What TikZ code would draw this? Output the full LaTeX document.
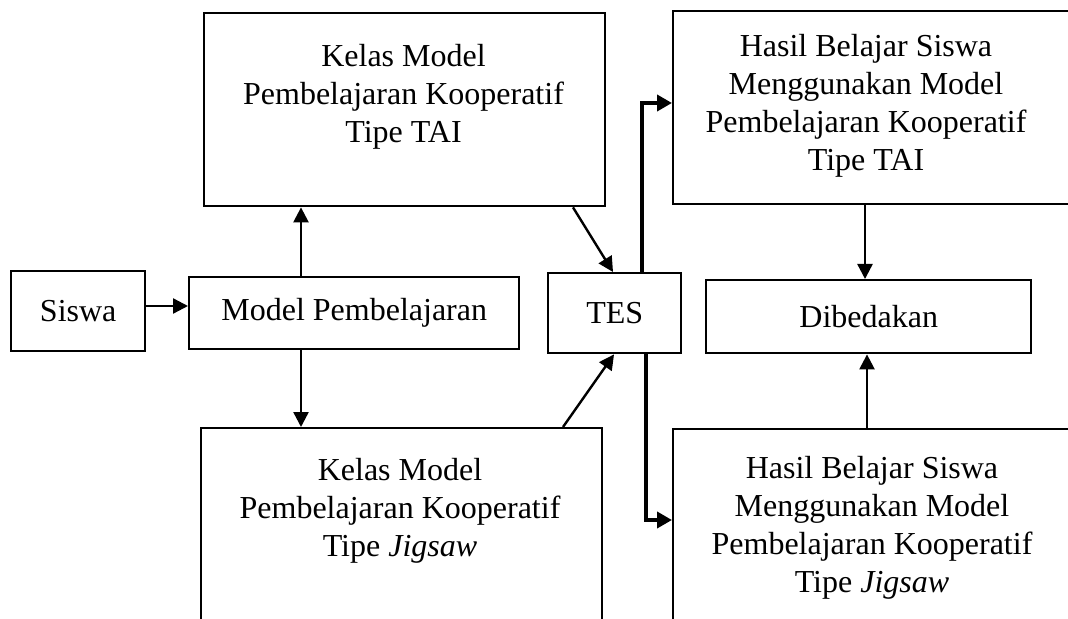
\documentclass[tikz,border=0pt]{standalone}
\usepackage{fontspec}
\setmainfont{Liberation Serif}
\usetikzlibrary{calc,arrows.meta}
\begin{document}
\begin{tikzpicture}[x=0.5pt,y=-0.5pt,
  box/.style={draw,line width=1.2pt,inner sep=0pt,anchor=north west,font=\fontsize{16}{19}\selectfont},
  txt/.style={align=center,font=\fontsize{16}{19}\selectfont,inner sep=0pt},
  arr/.style={line width=1.2pt,-{Triangle[length=7.5pt,width=7.5pt]}},
  thk/.style={line width=2pt,line join=miter,-{Triangle[length=7.5pt,width=8pt]}}]
\useasboundingbox (0,0) rectangle (1068,619);
\clip (0,0) rectangle (1068,619);
% boxes
\node[box,minimum width=67pt,minimum height=40pt] (siswa) at (10,270) {Siswa};
\node[box,minimum width=165pt,minimum height=36pt] (model) at (188,276) {Model Pembelajaran};
\node[box,minimum width=66.5pt,minimum height=40pt] (tes) at (547,272) {TES};
\node[box,minimum width=162.5pt,minimum height=36.5pt] (dib) at (705,279) {Dibedakan};
\node[box,minimum width=200.5pt,minimum height=96.5pt] (tl) at (203,12) {};
\node[box,minimum width=201.5pt,minimum height=96.5pt] (tr) at (672,10) {};
\node[box,minimum width=200.5pt,minimum height=136.5pt] (bl) at (200,427) {};
\node[box,minimum width=201.5pt,minimum height=136.5pt] (br) at (672,428) {};
% texts
\node[txt] (tlT) at (403.5,97) {Kelas Model\\Pembelajaran Kooperatif\\Tipe TAI};
\node[txt] (trT) at (866,106) {Hasil Belajar Siswa\\Menggunakan Model\\Pembelajaran Kooperatif\\Tipe TAI};
\node[txt] (blT) at (400,511) {Kelas Model\\Pembelajaran Kooperatif\\Tipe \textit{Jigsaw}};
\node[txt] (brT) at (872,528) {Hasil Belajar Siswa\\Menggunakan Model\\Pembelajaran Kooperatif\\Tipe \textit{Jigsaw}};
% connectors
\draw[arr] ($(siswa.north east)+(0,36)$) -- ($(model.north west)+(0,30)$);
\draw[arr] ($(model.north west)+(113,0)$) -- ($(tl.south west)+(98,0)$);
\draw[arr] ($(model.south west)+(113,0)$) -- ($(bl.north west)+(101,0)$);
\draw[arr] ($(tl.south west)+(370,0)$) -- ($(tes.north west)+(66,0)$);
\draw[arr] ($(bl.north west)+(363,0)$) -- ($(tes.south west)+(67,0)$);
\draw[thk] ($(tes.north west)+(95,0)$) |- ($(tr.north west)+(0,93)$);
\draw[thk] ($(tes.south west)+(99,0)$) |- ($(br.north west)+(0,92)$);
\draw[arr] ($(tr.south west)+(193,0)$) -- ($(dib.north west)+(160,0)$);
\draw[arr] ($(br.north west)+(195,0)$) -- ($(dib.south west)+(162,0)$);
\end{tikzpicture}
\end{document}
